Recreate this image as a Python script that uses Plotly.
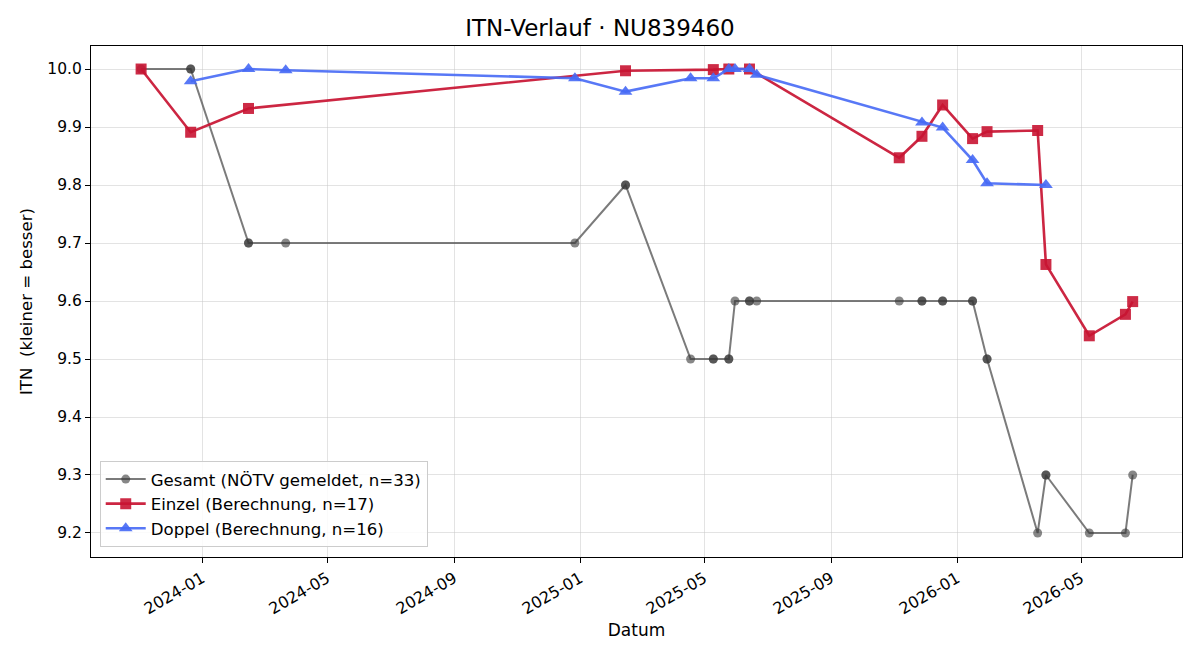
import plotly.graph_objects as go

# ---- data ----
gesamt_dates = ["2023-11-03", "2023-12-21", "2023-12-21", "2024-02-15", "2024-02-15", "2024-03-22",
                "2024-12-27", "2025-02-14", "2025-02-14", "2025-04-18", "2025-05-10", "2025-05-10",
                "2025-05-25", "2025-05-25", "2025-05-31", "2025-06-14", "2025-06-14", "2025-06-21",
                "2025-11-06", "2025-11-28", "2025-11-28", "2025-12-18", "2025-12-18", "2026-01-16",
                "2026-01-16", "2026-01-30", "2026-01-30", "2026-03-20", "2026-03-28", "2026-03-28",
                "2026-05-09", "2026-06-13", "2026-06-20"]
gesamt_itn = [10.0, 10.0, 10.0, 9.7, 9.7, 9.7,
              9.7, 9.8, 9.8, 9.5, 9.5, 9.5,
              9.5, 9.5, 9.6, 9.6, 9.6, 9.6,
              9.6, 9.6, 9.6, 9.6, 9.6, 9.6,
              9.6, 9.5, 9.5, 9.2, 9.3, 9.3,
              9.2, 9.2, 9.3]

einzel_dates = ["2023-11-03", "2023-12-21", "2024-02-15", "2025-02-14", "2025-05-10", "2025-05-25",
                "2025-06-14", "2025-11-06", "2025-11-28", "2025-12-18", "2026-01-16", "2026-01-30",
                "2026-03-20", "2026-03-28", "2026-05-09", "2026-06-13", "2026-06-20"]
einzel_itn = [10.0, 9.891, 9.932, 9.997, 9.999, 10.0,
              10.0, 9.847, 9.884, 9.938, 9.880, 9.892,
              9.894, 9.663, 9.540, 9.577, 9.599]

doppel_dates = ["2023-12-21", "2024-02-15", "2024-03-22", "2024-12-27", "2025-02-14", "2025-04-18",
                "2025-05-10", "2025-05-25", "2025-05-31", "2025-06-14", "2025-06-21", "2025-11-28",
                "2025-12-18", "2026-01-16", "2026-01-30", "2026-03-28"]
doppel_itn = [9.979, 10.0, 9.998, 9.984, 9.961, 9.984,
              9.984, 10.0, 10.0, 10.0, 9.99, 9.908,
              9.899, 9.843, 9.803, 9.800]

x_ticks = ["2024-01-01", "2024-05-01", "2024-09-01", "2025-01-01",
           "2025-05-01", "2025-09-01", "2026-01-01", "2026-05-01"]
x_ticklabels = ["2024-01", "2024-05", "2024-09", "2025-01",
                "2025-05", "2025-09", "2026-01", "2026-05"]
y_ticks = [9.2, 9.3, 9.4, 9.5, 9.6, 9.7, 9.8, 9.9, 10.0]

FONT = "DejaVu Sans"

fig = go.Figure()
fig.add_trace(go.Scatter(
    x=gesamt_dates, y=gesamt_itn, mode="lines+markers",
    name="Gesamt (NÖTV gemeldet, n=33)",
    line=dict(color="rgba(90,90,90,0.8)", width=2),
    marker=dict(symbol="circle", size=9, color="rgba(55,55,55,0.6)", line=dict(width=0)),
))
fig.add_trace(go.Scatter(
    x=einzel_dates, y=einzel_itn, mode="lines+markers",
    name="Einzel (Berechnung, n=17)",
    line=dict(color="rgba(200,20,50,0.92)", width=2.6),
    marker=dict(symbol="square", size=11, color="rgba(200,20,50,0.9)", line=dict(width=0)),
))
fig.add_trace(go.Scatter(
    x=doppel_dates, y=doppel_itn, mode="lines+markers",
    name="Doppel (Berechnung, n=16)",
    line=dict(color="rgba(70,105,245,0.9)", width=2.6),
    marker=dict(symbol="triangle-up", size=12, color="rgba(70,105,245,0.9)", line=dict(width=0)),
))

fig.update_layout(
    width=1200, height=660,
    margin=dict(l=91, r=18, t=46, b=103),
    paper_bgcolor="white", plot_bgcolor="white",
    font=dict(family=FONT, size=16, color="black"),
    title=dict(text="ITN-Verlauf · NU839460", x=0.5, xanchor="center",
               y=1 - 28 / 660, yanchor="middle", font=dict(size=23, family=FONT)),
    xaxis=dict(
        type="date", range=["2023-09-15 12:00", "2026-08-06 18:00"],
        tickvals=x_ticks, ticktext=x_ticklabels, tickangle=-30,
        showline=True, linecolor="black", linewidth=1.2, mirror=True,
        ticks="outside", ticklen=5, tickcolor="black",
        showgrid=True, gridcolor="rgba(200,200,200,0.5)", gridwidth=1,
        zeroline=False,
        title=dict(text="Datum", font=dict(size=17), standoff=6),
        tickfont=dict(size=16),
    ),
    yaxis=dict(
        range=[9.1586, 10.0397],
        tickvals=y_ticks, ticktext=[f"{v:.1f}" for v in y_ticks],
        showline=True, linecolor="black", linewidth=1.2, mirror=True,
        ticks="outside", ticklen=5, tickcolor="black",
        showgrid=True, gridcolor="rgba(200,200,200,0.5)", gridwidth=1,
        zeroline=False,
        title=dict(text="ITN  (kleiner = besser)", font=dict(size=16.6), standoff=10),
        tickfont=dict(size=15.5),
    ),
    legend=dict(
        x=0.008, y=0.02, xanchor="left", yanchor="bottom",
        bgcolor="rgba(255,255,255,0.85)", bordercolor="#cccccc", borderwidth=1,
        font=dict(size=16.6), itemwidth=40, tracegroupgap=0,
    ),
    showlegend=True,
)

fig.write_html("out.html")
